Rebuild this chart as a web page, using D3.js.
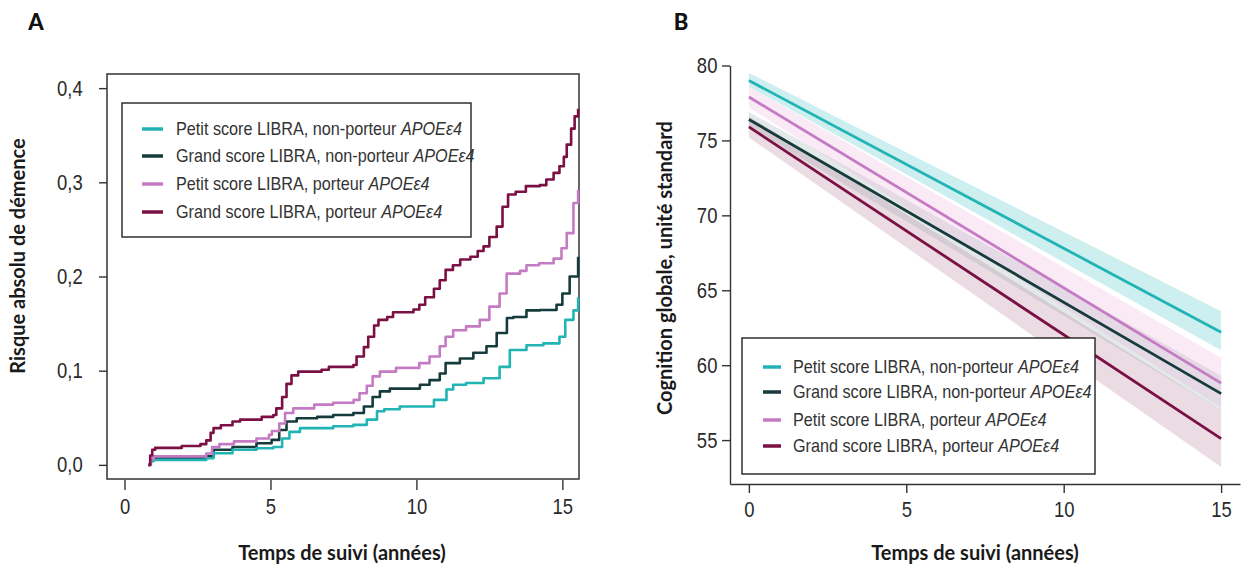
<!DOCTYPE html>
<html lang="fr">
<head>
  <meta charset="UTF-8">
  <title>Risque de démence et cognition globale selon LIBRA et APOE</title>
  <script src="https://d3js.org/d3.v7.min.js"></script>
  <style>
    body { margin: 0; background: #fff; }
    svg { display: block; }
    .tick text { font-family: "Liberation Sans", sans-serif; font-size: 22px; fill: #2a2a2a; }
    .tick line, .domain { stroke: #333; stroke-width: 1.4px; }
    .axis-title { font-family: Lato, "Open Sans", sans-serif; font-weight: 700; font-size: 20px; fill: #1a1a1a; }
    .panel-letter { font-family: Lato, sans-serif; font-weight: 900; font-size: 22px; fill: #111; }
    .legend text { font-family: "Liberation Sans", sans-serif; font-size: 18px; fill: #333; }
    .frame { fill: none; stroke: #333; stroke-width: 1.5px; }
  </style>
</head>
<body>
  <svg id="chart" width="1242" height="569"></svg>

  <script>
    // groups, same order in both panels
    const groups = [
      "Petit score LIBRA, non-porteur ",
      "Grand score LIBRA, non-porteur ",
      "Petit score LIBRA, porteur ",
      "Grand score LIBRA, porteur "
    ];
    const colors = ["#22b4b4", "#163b3c", "#c57bc3", "#7a1044"];
    const bandColors = ["#22b4b4", "#7f9c9c", "#e7a0d8", "#a4607e"];

    // panel A: cumulative risk (Kaplan-Meier style steps)
    const tA0 = [0.82, 0.9, 1.0, 2.8, 3.05, 3.7, 4.52, 5.1, 5.4, 5.65, 6.01, 7.15, 7.84, 8.3, 8.65, 8.9, 9.43, 10.12, 10.6, 11.03, 11.26, 11.7, 12.3, 12.85, 13.2, 13.77, 14.35, 14.9, 15.1, 15.38, 15.54];
    const rA0 = [0, 0.004, 0.0053, 0.007, 0.0124, 0.016, 0.0177, 0.019, 0.028, 0.035, 0.039, 0.041, 0.0425, 0.048, 0.057, 0.059, 0.062, 0.062, 0.069, 0.080, 0.085, 0.087, 0.092, 0.104, 0.122, 0.127, 0.129, 0.136, 0.154, 0.164, 0.178];

    const tA1 = [0.82, 0.9, 1.0, 2.8, 3.05, 3.7, 4.52, 5.04, 5.3, 5.55, 5.9, 6.6, 7.15, 7.84, 8.2, 8.5, 8.75, 9.09, 10.12, 10.45, 10.8, 11.0, 11.49, 11.95, 12.4, 12.75, 13.1, 13.32, 13.77, 14.23, 14.8, 15.0, 15.25, 15.54];
    const rA1 = [0, 0.005, 0.007, 0.009, 0.016, 0.019, 0.023, 0.0265, 0.037, 0.046, 0.0495, 0.051, 0.053, 0.055, 0.062, 0.072, 0.078, 0.081, 0.085, 0.090, 0.097, 0.108, 0.113, 0.119, 0.126, 0.140, 0.156, 0.157, 0.164, 0.1645, 0.170, 0.182, 0.200, 0.221];

    const tA2 = [0.82, 0.9, 1.0, 2.8, 3.0, 3.25, 3.75, 4.52, 4.95, 5.05, 5.3, 5.5, 5.78, 6.5, 7.15, 7.85, 8.05, 8.3, 8.5, 8.75, 9.3, 10.1, 10.45, 10.8, 11.0, 11.26, 11.7, 12.17, 12.5, 12.85, 13.09, 13.55, 13.77, 14.2, 14.7, 14.97, 15.15, 15.38, 15.54];
    const rA2 = [0, 0.006, 0.009, 0.012, 0.019, 0.022, 0.025, 0.028, 0.032, 0.036, 0.044, 0.055, 0.060, 0.064, 0.066, 0.069, 0.076, 0.084, 0.094, 0.099, 0.103, 0.108, 0.115, 0.126, 0.136, 0.143, 0.147, 0.154, 0.168, 0.182, 0.203, 0.206, 0.212, 0.214, 0.219, 0.230, 0.246, 0.278, 0.292];

    const tA3 = [0.82, 0.88, 0.95, 1.05, 1.96, 2.6, 2.8, 2.95, 3.05, 3.3, 3.7, 3.96, 4.7, 5.1, 5.2, 5.4, 5.55, 5.72, 5.95, 6.75, 7.0, 7.84, 7.95, 8.2, 8.35, 8.55, 8.7, 9.0, 9.2, 9.9, 10.1, 10.3, 10.6, 10.8, 11.0, 11.25, 11.5, 11.85, 12.1, 12.3, 12.5, 12.75, 12.95, 13.14, 13.4, 13.75, 14.23, 14.45, 14.7, 14.9, 15.05, 15.15, 15.3, 15.42, 15.54];
    const rA3 = [0, 0.010, 0.016, 0.018, 0.020, 0.022, 0.026, 0.034, 0.039, 0.042, 0.046, 0.048, 0.051, 0.053, 0.060, 0.072, 0.086, 0.095, 0.099, 0.101, 0.104, 0.106, 0.115, 0.125, 0.136, 0.148, 0.154, 0.157, 0.162, 0.165, 0.170, 0.178, 0.187, 0.196, 0.207, 0.212, 0.218, 0.221, 0.227, 0.232, 0.242, 0.253, 0.274, 0.287, 0.290, 0.296, 0.297, 0.303, 0.310, 0.317, 0.327, 0.340, 0.357, 0.370, 0.378];

    const timesA = [tA0, tA1, tA2, tA3];
    const riskA = [rA0, rA1, rA2, rA3];
    const ticksA_x = [0, 5, 10, 15];
    const ticksA_y = [0, 0.1, 0.2, 0.3, 0.4];

    // panel B: linear trajectories (start, end) with 95% CI
    const yearsB = [0, 15];
    const fitB  = [[79.0, 62.2], [76.4, 58.1], [77.9, 58.8], [75.9, 55.1]];
    const lowB  = [[78.6, 61.0], [75.9, 57.0], [77.2, 57.2], [75.2, 53.2]];
    const highB = [[79.5, 63.6], [76.9, 59.3], [78.6, 60.5], [76.6, 57.0]];
    const ticksB_y = [55, 60, 65, 70, 75, 80];

    const narrow = 0.84; // the original uses a condensed face
    const svg = d3.select("#chart");

    function squeeze(g) {
      g.selectAll(".tick text").attr("transform", `scale(${narrow},1)`);
    }

    // ---------- panel A ----------
    const xA = d3.scaleLinear().domain([-0.6, 15.57]).range([107, 579]);
    const yA = d3.scaleLinear().domain([-0.015, 0.415]).range([479, 74]);
    const gA = svg.append("g");

    gA.append("g")
      .attr("transform", "translate(107,0)")
      .call(d3.axisLeft(yA).tickValues(ticksA_y).tickSize(8).tickPadding(21)
        .tickFormat(d => d.toFixed(1).replace(".", ",")))
      .call(g => g.select(".domain").remove())
      .call(squeeze);

    gA.append("g")
      .attr("transform", "translate(0,480)")
      .call(d3.axisBottom(xA).tickValues(ticksA_x).tickSize(10).tickPadding(8))
      .call(g => g.select(".domain").remove())
      .call(squeeze);

    gA.append("rect").attr("class", "frame")
      .attr("x", xA(-0.6)).attr("y", yA(0.415))
      .attr("width", xA(15.57) - xA(-0.6)).attr("height", yA(-0.015) - yA(0.415));

    const stepLine = d3.line().curve(d3.curveStepAfter)
      .x(d => xA(d[0])).y(d => yA(d[1]));

    [1, 0, 2, 3].forEach(i => {
      const pts = timesA[i].map((t, j) => [t, riskA[i][j]]);
      gA.append("path")
        .attr("d", stepLine(pts))
        .attr("fill", "none")
        .attr("stroke", colors[i])
        .attr("stroke-width", 2.6)
        .attr("stroke-linejoin", "round");
    });

    gA.append("text").attr("class", "axis-title")
      .attr("transform", "translate(25,256) rotate(-90)")
      .attr("text-anchor", "middle").text("Risque absolu de démence");
    gA.append("text").attr("class", "axis-title")
      .attr("x", 342).attr("y", 560).attr("text-anchor", "middle")
      .text("Temps de suivi (années)");
    svg.append("text").attr("class", "panel-letter")
      .attr("x", 36).attr("y", 30).attr("text-anchor", "middle").text("A");

    // ---------- panel B ----------
    const xB = d3.scaleLinear().domain([-0.6, 15.6]).range([730, 1240]);
    const yB = d3.scaleLinear().domain([52.07, 80]).range([484, 65.5]);
    const gB = svg.append("g");

    const band = d3.area()
      .x((d, j) => xB(yearsB[j]))
      .y0(d => yB(d[0])).y1(d => yB(d[1]));

    [1, 3, 2, 0].forEach(i => {
      const pts = yearsB.map((_, j) => [lowB[i][j], highB[i][j]]);
      gB.append("path")
        .attr("d", band(pts))
        .attr("fill", bandColors[i])
        .attr("fill-opacity", 0.22);
    });

    const fitLine = d3.line().x((d, j) => xB(yearsB[j])).y(d => yB(d));
    [1, 3, 2, 0].forEach(i => {
      gB.append("path")
        .attr("d", fitLine(fitB[i]))
        .attr("fill", "none")
        .attr("stroke", colors[i])
        .attr("stroke-width", 2.8);
    });

    gB.append("g")
      .attr("transform", "translate(730,0)")
      .call(d3.axisLeft(yB).tickValues(ticksB_y).tickSize(8).tickSizeOuter(0).tickPadding(7))
      .call(squeeze);

    gB.append("g")
      .attr("transform", "translate(0,484)")
      .call(d3.axisBottom(xB).tickValues(ticksA_x).tickSize(9).tickSizeOuter(0).tickPadding(8))
      .call(squeeze);

    gB.append("text").attr("class", "axis-title")
      .attr("transform", "translate(672,268) rotate(-90)")
      .attr("text-anchor", "middle").text("Cognition globale, unité standard");
    gB.append("text").attr("class", "axis-title")
      .attr("x", 975).attr("y", 560).attr("text-anchor", "middle")
      .text("Temps de suivi (années)");
    svg.append("text").attr("class", "panel-letter")
      .attr("x", 681).attr("y", 30).attr("text-anchor", "middle").text("B");

    // ---------- legends ----------
    function legend(x, y, w, h, rows, swX, swW, txX) {
      const lg = svg.append("g").attr("class", "legend");
      lg.append("rect").attr("x", x).attr("y", y).attr("width", w).attr("height", h)
        .attr("fill", "#fff").attr("stroke", "#222").attr("stroke-width", 1.4);
      groups.forEach((g, i) => {
        lg.append("line")
          .attr("x1", swX).attr("x2", swX + swW)
          .attr("y1", rows[i]).attr("y2", rows[i])
          .attr("stroke", colors[i]).attr("stroke-width", 3.5);
        const t = lg.append("text")
          .attr("transform", `translate(${txX},${rows[i] + 6}) scale(0.9,1)`);
        t.append("tspan").text(g);
        t.append("tspan").attr("font-style", "italic").text("APOEε4");
      });
    }
    legend(122, 103, 349, 134, [129, 156, 184, 212], 142, 21, 176);
    legend(742, 338, 353, 136, [367, 392, 420, 446], 763, 18, 793);
  </script>
</body>
</html>
